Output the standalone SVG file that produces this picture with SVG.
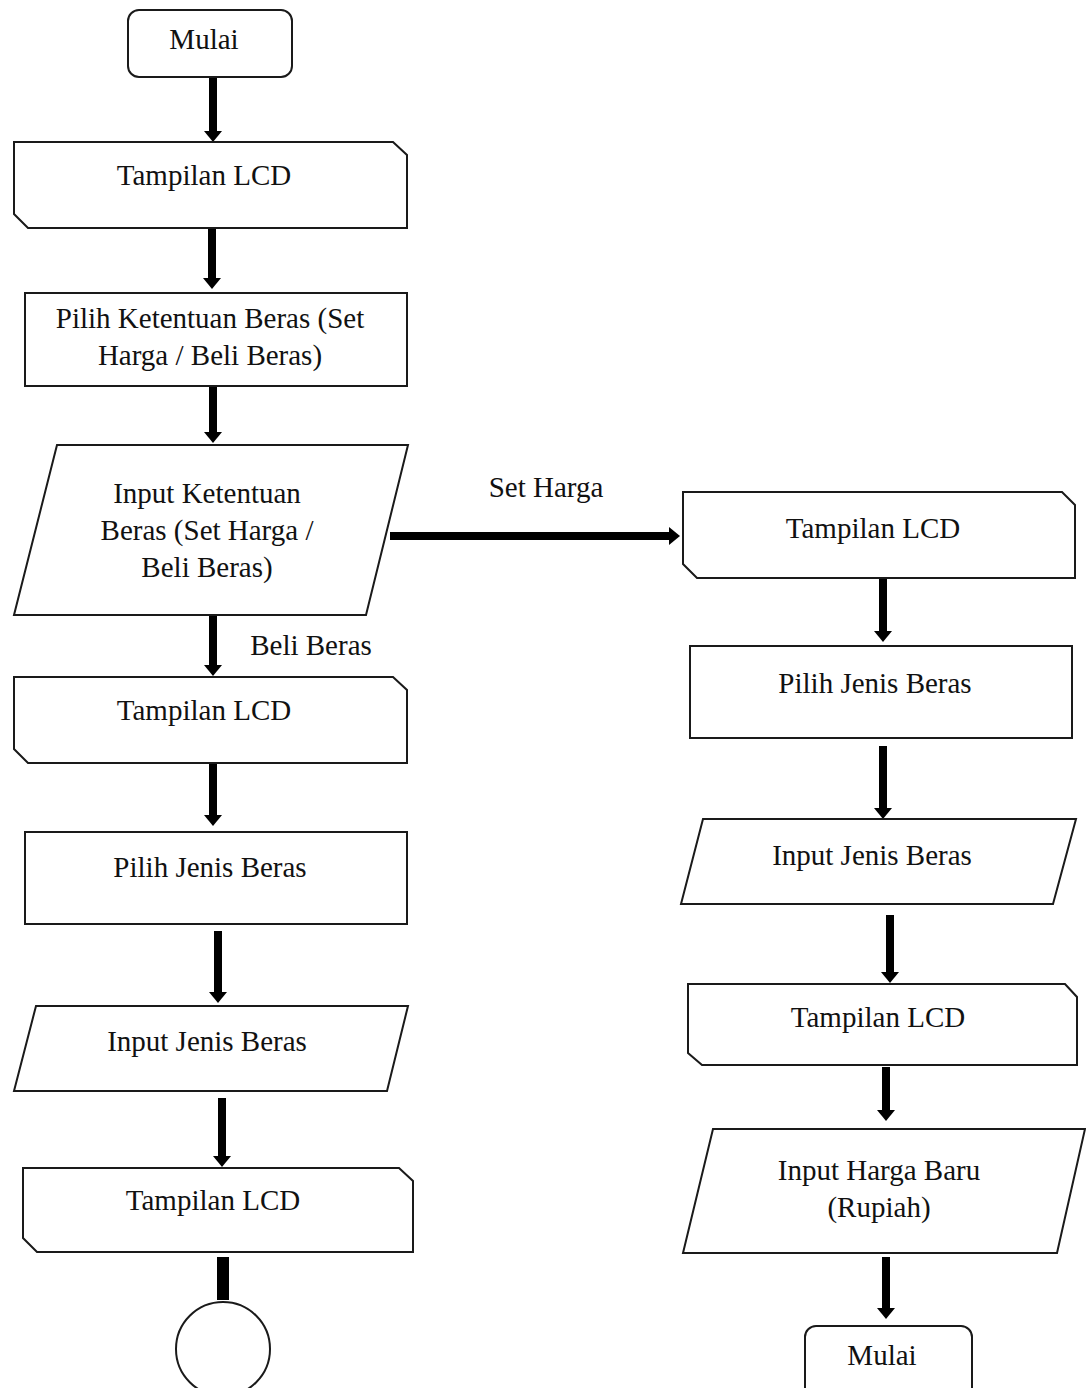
<svg xmlns="http://www.w3.org/2000/svg" width="1086" height="1388" viewBox="0 0 1086 1388">
<defs>
<style>
.shape{fill:#fff;stroke:#1a1a1a;stroke-width:2}
.lbl{font-family:"Liberation Serif","Times New Roman",serif;font-size:29px;fill:#111;text-anchor:middle}
.conn{stroke:#000;stroke-width:8;fill:none}
</style>
<marker id="ah" viewBox="0 0 11 18" markerWidth="11" markerHeight="18" markerUnits="userSpaceOnUse" refX="0" refY="9" orient="auto">
<path d="M0,0 L11,9 L0,18 z" fill="#000"/>
</marker>
</defs>
<rect width="1086" height="1388" fill="#fff"/>

<g id="connectors">
<line class="conn" x1="213" y1="78" x2="213" y2="131" marker-end="url(#ah)"/>
<line class="conn" x1="212" y1="228" x2="212" y2="278" marker-end="url(#ah)"/>
<line class="conn" x1="213" y1="386" x2="213" y2="432" marker-end="url(#ah)"/>
<line class="conn" x1="213" y1="616" x2="213" y2="665" marker-end="url(#ah)"/>
<line class="conn" x1="213" y1="764" x2="213" y2="815" marker-end="url(#ah)"/>
<line class="conn" x1="218" y1="931" x2="218" y2="992" marker-end="url(#ah)"/>
<line class="conn" x1="222" y1="1098" x2="222" y2="1156" marker-end="url(#ah)"/>
<line stroke="#000" stroke-width="12" x1="223" y1="1257" x2="223" y2="1300"/>
<line class="conn" stroke-width="9" x1="390" y1="536" x2="669" y2="536" marker-end="url(#ah)"/>
<line class="conn" x1="883" y1="579" x2="883" y2="631" marker-end="url(#ah)"/>
<line class="conn" x1="883" y1="746" x2="883" y2="808" marker-end="url(#ah)"/>
<line class="conn" x1="890" y1="915" x2="890" y2="972" marker-end="url(#ah)"/>
<line class="conn" x1="886" y1="1067" x2="886" y2="1110" marker-end="url(#ah)"/>
<line class="conn" x1="886" y1="1257" x2="886" y2="1308" marker-end="url(#ah)"/>
<text class="lbl" x="546" y="497">Set Harga</text>
<text class="lbl" x="311" y="655">Beli Beras</text>
</g>

<g id="start">
<rect class="shape" x="128" y="10" width="164" height="67" rx="11"/>
<text class="lbl" x="204" y="49">Mulai</text>
</g>

<g id="lcd1">
<path class="shape" d="M14,142 H393 L407,155 V228 H28 L14,214 Z"/>
<text class="lbl" x="204" y="185">Tampilan LCD</text>
</g>

<g id="pilih-ketentuan">
<rect class="shape" x="25" y="293" width="382" height="93"/>
<text class="lbl" x="210" y="328">Pilih Ketentuan Beras (Set</text>
<text class="lbl" x="210" y="365">Harga / Beli Beras)</text>
</g>

<g id="input-ketentuan">
<path class="shape" d="M57,445 H408 L366,615 H14 Z"/>
<text class="lbl" x="207" y="503">Input Ketentuan</text>
<text class="lbl" x="207" y="540">Beras (Set Harga /</text>
<text class="lbl" x="207" y="577">Beli Beras)</text>
</g>

<g id="lcd2">
<path class="shape" d="M14,677 H393 L407,690 V763 H28 L14,749 Z"/>
<text class="lbl" x="204" y="720">Tampilan LCD</text>
</g>

<g id="pilih-jenis-left">
<rect class="shape" x="25" y="832" width="382" height="92"/>
<text class="lbl" x="210" y="877">Pilih Jenis Beras</text>
</g>

<g id="input-jenis-left">
<path class="shape" d="M36,1006 H408 L387,1091 H14 Z"/>
<text class="lbl" x="207" y="1051">Input Jenis Beras</text>
</g>

<g id="lcd3">
<path class="shape" d="M23,1168 H399 L413,1181 V1252 H37 L23,1238 Z"/>
<text class="lbl" x="213" y="1210">Tampilan LCD</text>
</g>

<g id="connector-circle">
<circle class="shape" cx="223" cy="1349" r="47"/>
</g>

<g id="lcd-right1">
<path class="shape" d="M683,492 H1062 L1075,505 V578 H697 L683,564 Z"/>
<text class="lbl" x="873" y="538">Tampilan LCD</text>
</g>

<g id="pilih-jenis-right">
<rect class="shape" x="690" y="646" width="382" height="92"/>
<text class="lbl" x="875" y="693">Pilih Jenis Beras</text>
</g>

<g id="input-jenis-right">
<path class="shape" d="M703,819 H1076 L1053,904 H681 Z"/>
<text class="lbl" x="872" y="865">Input Jenis Beras</text>
</g>

<g id="lcd-right2">
<path class="shape" d="M688,984 H1065 L1077,997 V1065 H702 L688,1053 Z"/>
<text class="lbl" x="878" y="1027">Tampilan LCD</text>
</g>

<g id="input-harga">
<path class="shape" d="M713,1129 H1085 L1057,1253 H683 Z"/>
<text class="lbl" x="879" y="1180">Input Harga Baru</text>
<text class="lbl" x="879" y="1217">(Rupiah)</text>
</g>

<g id="end">
<rect class="shape" x="805" y="1326" width="167" height="80" rx="11"/>
<text class="lbl" x="882" y="1365">Mulai</text>
</g>
</svg>
